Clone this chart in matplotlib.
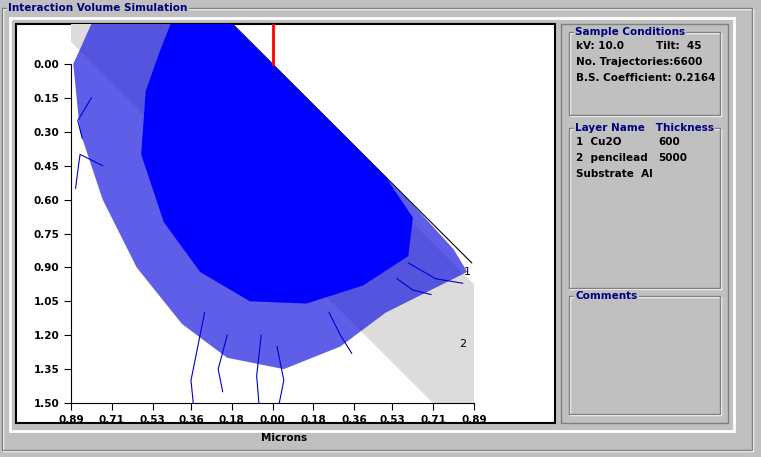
import matplotlib
matplotlib.use("Agg")
import matplotlib.pyplot as plt
from matplotlib.patches import Rectangle
import numpy as np

xticks = [-0.89, -0.71, -0.53, -0.36, -0.18, 0.0, 0.18, 0.36, 0.53, 0.71, 0.89]
xticklabels = ["0.89", "0.71", "0.53", "0.36", "0.18", "0.00", "0.18", "0.36", "0.53", "0.71", "0.89"]
yticks = [0.0, 0.15, 0.30, 0.45, 0.60, 0.75, 0.90, 1.05, 1.20, 1.35, 1.50]
yticklabels = ["0.00", "0.15", "0.30", "0.45", "0.60", "0.75", "0.90", "1.05", "1.20", "1.35", "1.50"]
layer_names = ["1  Cu2O", "2  pencilead"]
layer_thick = ["600", "5000"]
layer1_um = 0.06
layer2_um = 0.5

# interaction-volume outlines (data coords)
outer_x = [-0.80, -0.177, 0.60, 0.80, 0.86, 0.70, 0.50, 0.30, 0.05, -0.20, -0.40, -0.60, -0.75, -0.85, -0.88]
outer_y = [-0.177, -0.177, 0.60, 0.82, 0.92, 1.00, 1.10, 1.25, 1.35, 1.30, 1.15, 0.90, 0.60, 0.30, 0.00]
core_x = [-0.45, -0.177, 0.50, 0.62, 0.60, 0.40, 0.15, -0.10, -0.32, -0.48, -0.58, -0.56, -0.50]
core_y = [-0.177, -0.177, 0.50, 0.68, 0.85, 0.98, 1.06, 1.05, 0.92, 0.70, 0.40, 0.12, -0.05]
tendrils = [
    ([-0.30, -0.33, -0.36, -0.35], [1.10, 1.25, 1.40, 1.50]),
    ([-0.05, -0.07, -0.06], [1.20, 1.38, 1.50]),
    ([0.02, 0.05, 0.03], [1.25, 1.40, 1.50]),
    ([-0.20, -0.24, -0.22], [1.20, 1.35, 1.45]),
    ([0.25, 0.30, 0.35], [1.10, 1.20, 1.28]),
    ([0.55, 0.62, 0.70], [0.95, 1.00, 1.02]),
    ([0.60, 0.72, 0.84], [0.88, 0.95, 0.97]),
    ([-0.75, -0.85, -0.87], [0.45, 0.40, 0.55]),
    ([-0.80, -0.86, -0.84], [0.15, 0.25, 0.33]),
]

W, H = 761, 457
fig = plt.figure(figsize=(W/100, H/100), dpi=100)
fig.patch.set_facecolor("#c0c0c0")
ui = fig.add_axes([0, 0, 1, 1])
ui.set_xlim(0, W); ui.set_ylim(H, 0); ui.axis("off")
navy = "#000080"

def groupbox(x0, y0, x1, y1, title=None):
    ui.add_patch(Rectangle((x0+1, y0+1), x1-x0, y1-y0, fill=False, ec="white", lw=1))
    ui.add_patch(Rectangle((x0, y0), x1-x0, y1-y0, fill=False, ec="#808080", lw=1))
    if title:
        ui.text(x0+6, y0, title, color=navy, fontsize=7.5, fontweight="bold", va="center",
                ha="left", bbox=dict(fc="#c0c0c0", ec="none", pad=1))

groupbox(2, 8, 752, 450)
ui.text(8, 8, "Interaction Volume Simulation", color=navy, fontsize=7.5, fontweight="bold",
        va="center", ha="left", bbox=dict(fc="#c0c0c0", ec="none", pad=1))
ui.add_patch(Rectangle((10, 18), 724, 413, fill=False, ec="white", lw=2))
ui.add_patch(Rectangle((16, 24), 539, 399, fc="white", ec="black", lw=1.5))
ui.add_patch(Rectangle((561, 24), 167, 399, fill=False, ec="#808080", lw=1))
groupbox(569, 32, 720, 115, "Sample Conditions")
groupbox(569, 128, 720, 288, "Layer Name   Thickness")
groupbox(569, 296, 720, 414, "Comments")
fs = 7.5
ui.text(576, 46, "kV: 10.0", fontsize=fs, fontweight="bold", va="center")
ui.text(656, 46, "Tilt:  45", fontsize=fs, fontweight="bold", va="center")
ui.text(576, 62, "No. Trajectories:6600", fontsize=fs, fontweight="bold", va="center")
ui.text(576, 78, "B.S. Coefficient: 0.2164", fontsize=fs, fontweight="bold", va="center")
for i, (n, t) in enumerate(zip(layer_names, layer_thick)):
    ui.text(576, 142+i*16, n, fontsize=fs, fontweight="bold", va="center")
    ui.text(658, 142+i*16, t, fontsize=fs, fontweight="bold", va="center")
ui.text(576, 174, "Substrate  Al", fontsize=fs, fontweight="bold", va="center")
ui.text(284, 438, "Microns", fontsize=fs, fontweight="bold", va="center", ha="center")

# data axes
l, r, t, b = 71, 474, 24, 403
ax = fig.add_axes([l/W, 1-b/H, (r-l)/W, (b-t)/H])
ax.set_facecolor("none")
ax.set_xlim(-0.89, 0.89)
ax.set_ylim(1.5, -0.177)
for s in ["top", "right"]:
    ax.spines[s].set_visible(False)
ax.spines["left"].set_bounds(0, 1.5)
ax.set_xticks(xticks); ax.set_xticklabels(xticklabels)
ax.set_yticks(yticks); ax.set_yticklabels(yticklabels)
ax.tick_params(labelsize=7.5, length=5, direction="out")
for lab in ax.get_xticklabels() + ax.get_yticklabels():
    lab.set_fontweight("bold")

off1 = layer1_um*np.sqrt(2)
off2 = (layer1_um+layer2_um)*np.sqrt(2)
xs = np.array([-0.89, 0.89])
ax.fill_between(xs, xs+off1, xs+off2, color="#dcdcdc", lw=0, zorder=1)
ax.plot([-0.177, 0.88], [-0.177, 0.88], color="black", lw=0.8, zorder=2)
ax.fill(outer_x, outer_y, color="#1a1ae0", alpha=0.7, lw=0, zorder=3)
ax.fill(core_x, core_y, color="#0000ff", lw=0, zorder=4)
for tx, ty in tendrils:
    ax.plot(tx, ty, color="#0000cc", lw=0.8, zorder=3)
ax.plot([0, 0], [-0.177, 0], color="red", lw=2, zorder=5)
ax.text(0.86, 0.92, "1", fontsize=8, ha="center", va="center")
ax.text(0.84, 1.24, "2", fontsize=8, ha="center", va="center")

fig.savefig("out.png", dpi=100, facecolor=fig.get_facecolor())
